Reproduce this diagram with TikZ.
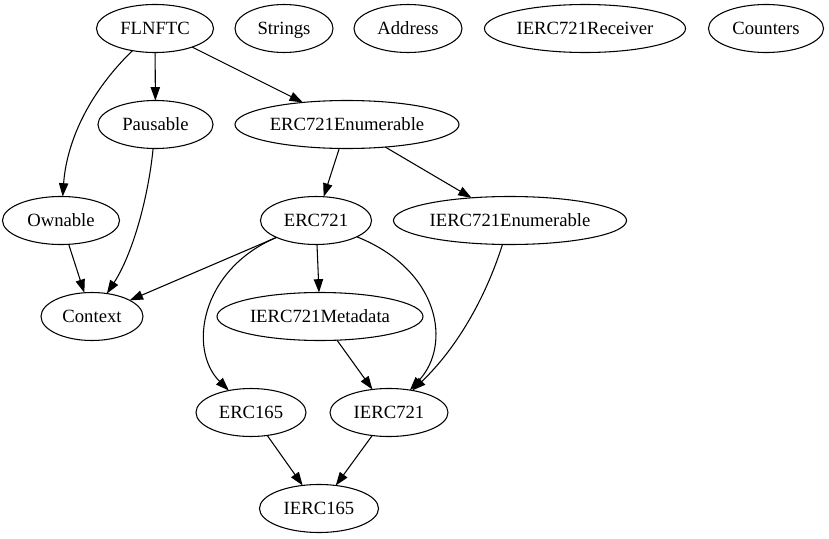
\documentclass[tikz,border=0pt]{standalone}
\usepackage{fontspec}
\setmainfont{Liberation Serif}
\usetikzlibrary{shapes.geometric,arrows.meta}
\begin{document}
\begin{tikzpicture}[x=0.75pt, y=-0.75pt, line width=0.8pt,
	every node/.style={draw, ellipse, minimum height=36pt, inner sep=0pt, outer sep=0pt, text height=9.3pt, text depth=0pt, font=\fontsize{14pt}{16pt}\selectfont},
	>={Triangle[length=10pt,width=7pt]}]
	\useasboundingbox (0,0) rectangle (829,539);
	\node (FLNFTC) [minimum width=87.8pt] at (155,28.5) {FLNFTC};
	\node (Strings) [minimum width=73.5pt] at (284,28.5) {Strings};
	\node (Address) [minimum width=81pt] at (408,28.5) {Address};
	\node (Receiver) [minimum width=150.8pt] at (585,28.5) {IERC721Receiver};
	\node (Counters) [minimum width=86.3pt] at (766,28.5) {Counters};
	\node (Pausable) [minimum width=86.3pt] at (155.5,124.5) {Pausable};
	\node (Enum) [minimum width=168pt] at (347,124.5) {ERC721Enumerable};
	\node (Ownable) [minimum width=87.8pt] at (61,220.5) {Ownable};
	\node (ERC) [minimum width=83.3pt] at (316,220.5) {ERC721};
	\node (IEnum) [minimum width=174.8pt] at (510,220.5) {IERC721Enumerable};
	\node (Context) [minimum width=76.5pt] at (92,316.5) {Context};
	\node (IMeta) [minimum width=154.5pt] at (320,316.5) {IERC721Metadata};
	\node (ERCsf) [minimum width=82.5pt] at (251,412.5) {ERC165};
	\node (IERC) [minimum width=88.5pt] at (389,412.5) {IERC721};
	\node (IERCsf) [minimum width=89.3pt] at (319,508.5) {IERC165};
	\draw[->] (FLNFTC) to (Pausable);
	\draw[->] (FLNFTC) to (Enum);
	\draw[->] (FLNFTC) .. controls (82,100) and (66,150) .. (Ownable);
	\draw[->] (Pausable) .. controls (148,200) and (132,255) .. (Context);
	\draw[->] (Ownable) to (Context);
	\draw[->] (Enum) to (ERC);
	\draw[->] (Enum) to (IEnum);
	\draw[->] (ERC) to (Context);
	\draw[->] (ERC) to (IMeta);
	\draw[->] (ERC) .. controls (200,270) and (188,350) .. (ERCsf);
	\draw[->] (ERC) .. controls (440,270) and (452,345) .. (IERC);
	\draw[->] (IEnum) .. controls (485,300) and (455,350) .. (IERC);
	\draw[->] (IMeta) to (IERC);
	\draw[->] (ERCsf) to (IERCsf);
	\draw[->] (IERC) to (IERCsf);
\end{tikzpicture}
\end{document}
